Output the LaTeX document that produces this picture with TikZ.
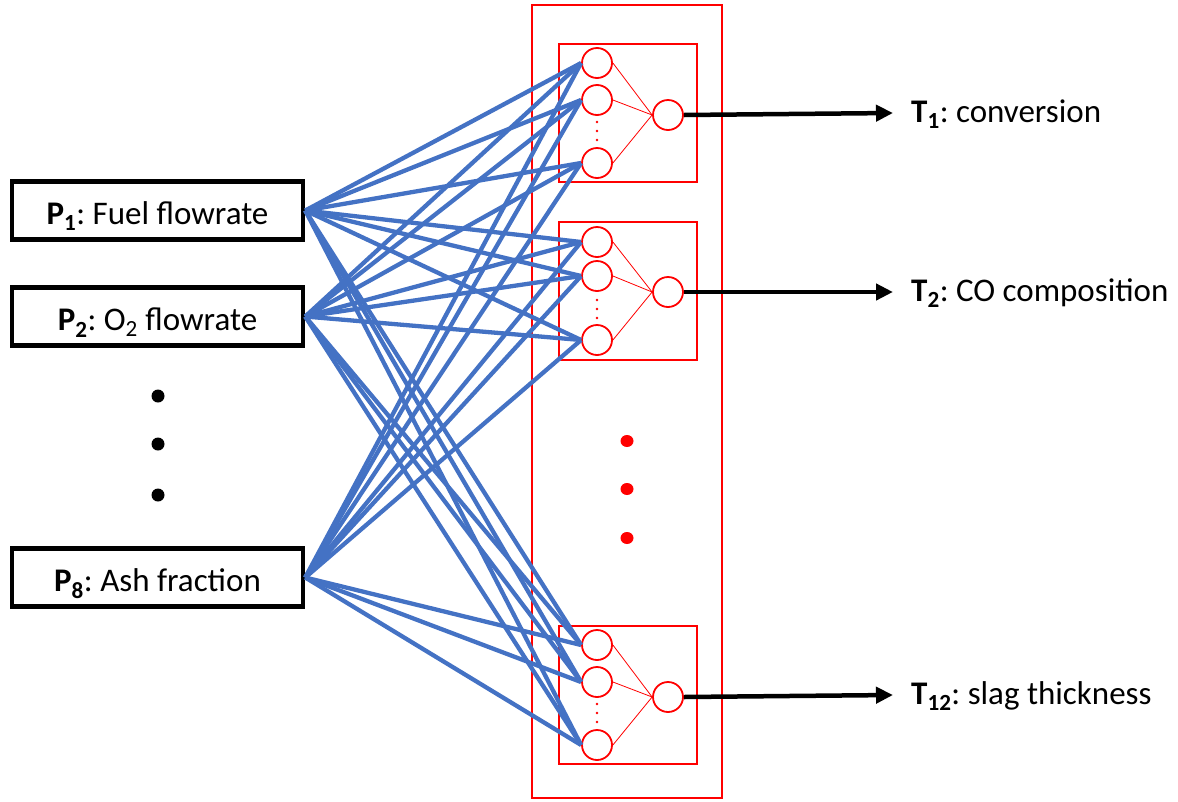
\documentclass[tikz,border=0pt]{standalone}
\usepackage{fontspec}
\setmainfont{Carlito}
\usetikzlibrary{arrows.meta}
\definecolor{lblue}{HTML}{4472C4}
\newcommand{\mysub}[1]{\textsubscript{#1}}
\frenchspacing
\tikzset{
  pbox/.style={draw=black, line width=4.5pt, minimum width=291pt, minimum height=58pt, inner sep=0pt, text height=28pt, text depth=0pt, font=\fontsize{33}{38}\selectfont},
  neuron/.style={circle, draw=red, line width=1.8pt, minimum size=30pt, inner sep=0pt, fill=white},
  nbox/.style={draw=red, line width=1.6pt},
  wire/.style={draw=lblue, line width=4.3pt},
  thin/.style={draw=red, line width=0.8pt},
  outarrow/.style={draw=black, line width=4.5pt, -{Triangle[length=17pt,width=16pt]}},
  tlabel/.style={anchor=west, inner sep=0pt, font=\fontsize{33}{38}\selectfont},
}
\begin{document}
\begin{tikzpicture}[x=1pt,y=-1pt]
\useasboundingbox (0,0) rectangle (1178,801);
% outer red box
\draw[nbox] (532,5) rectangle (722,798);
% inner boxes
\draw[nbox] (559,44) rectangle (697,182);
\draw[nbox] (559,222) rectangle (697,360);
\draw[nbox] (559,626) rectangle (697,764);
% input boxes
\node[pbox] (p1) at (157.5,210.5) {\textbf{P\mysub{1}}: Fuel flowrate};
\node[pbox] (p2) at (157.5,316.5) {\textbf{P\mysub{2}}: O\mysub{2} flowrate};
\node[pbox] (p8) at (157.5,577.5) {\textbf{P\mysub{8}}: Ash fraction};
% black dots
\fill[black] (158,396) circle (6.5pt) (158,444) circle (6.5pt) (158,495) circle (6.5pt);
% red dots
\fill[red] (627,441) ellipse (6.5pt and 6pt) (627,489) ellipse (6.5pt and 6pt) (627,538) ellipse (6.5pt and 6pt);
% neurons group 1
\node[neuron] (a1) at (597,63) {};
\node[neuron] (a2) at (597,100) {};
\node[neuron] (a3) at (597,163) {};
\node[neuron] (ao) at (668,115) {};
% group 2
\node[neuron] (b1) at (597,242) {};
\node[neuron] (b2) at (597,276) {};
\node[neuron] (b3) at (597,340) {};
\node[neuron] (bo) at (668,292) {};
% group 3
\node[neuron] (c1) at (597,645) {};
\node[neuron] (c2) at (597,682) {};
\node[neuron] (c3) at (597,745) {};
\node[neuron] (co) at (668,697) {};
% wires
\foreach \p in {p1,p2,p8}{
  \foreach \n in {a1,a2,a3,b1,b2,b3,c1,c2,c3}{
    \path[wire] (\p.east) -- (\n.west);
  }
}
\foreach \g in {a,b,c}{
  \draw[thin] (\g1.east) -- (\g o.west);
  \draw[thin] (\g2.east) -- (\g o.west);
  \draw[thin] (\g3.east) -- (\g o.west);
}
% small dots inside
\foreach \y in {122,131,140}{\fill[red] (597,\y) circle (1.4pt);}
\foreach \y in {300,309,318}{\fill[red] (597,\y) circle (1.4pt);}
\foreach \y in {704,713,722}{\fill[red] (597,\y) circle (1.4pt);}
% outputs
\coordinate (t1) at (893,113);
\coordinate (t2) at (893,292);
\coordinate (t3) at (893,695);
\draw[outarrow] (ao.east) -- (t1);
\draw[outarrow] (bo.east) -- (t2);
\draw[outarrow] (co.east) -- (t3);
\node[tlabel] (l1) at (911,114) {\textbf{T\mysub{1}}: conversion};
\node[tlabel] (l2) at (911,293) {\textbf{T\mysub{2}}: CO composition};
\node[tlabel] (l3) at (911,696) {\textbf{T\mysub{12}}: slag thickness};
\end{tikzpicture}
\end{document}
